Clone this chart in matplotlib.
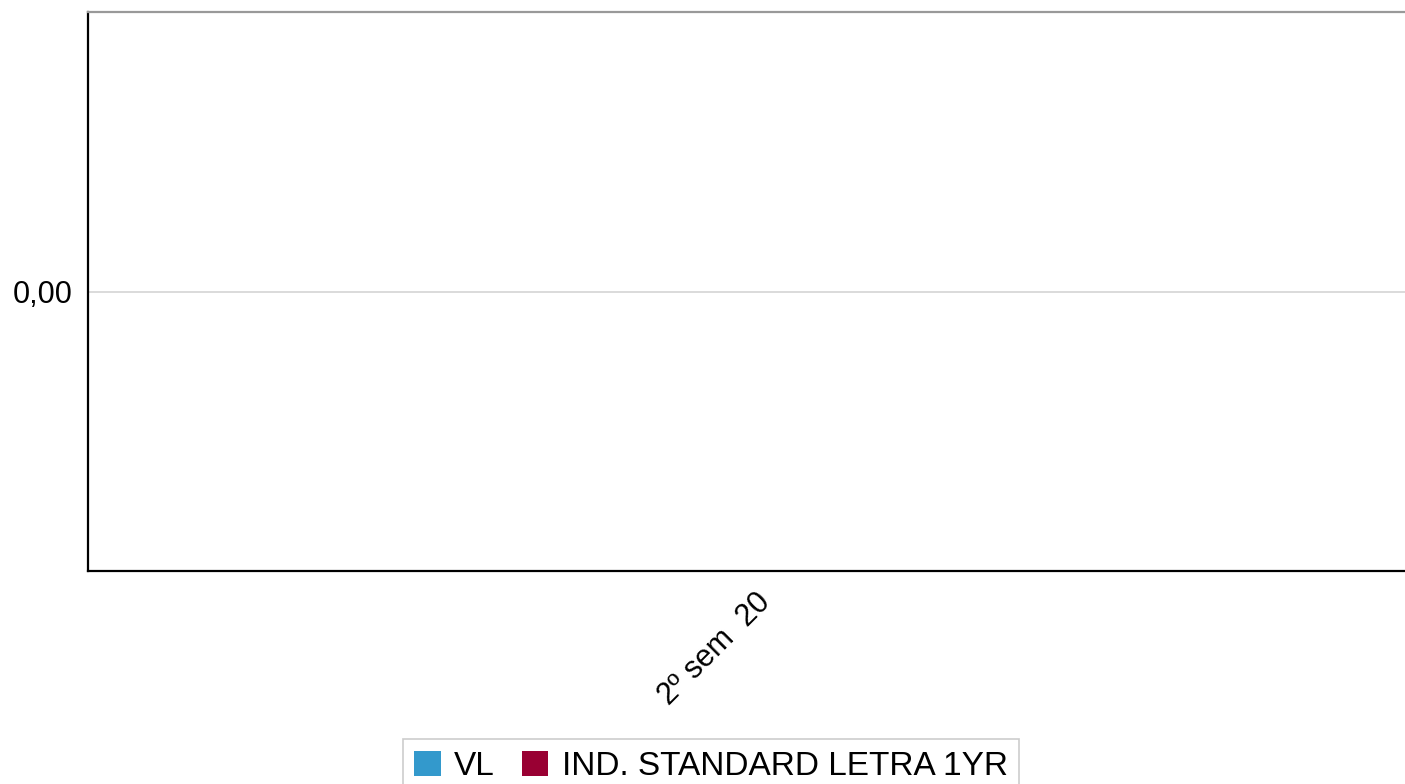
import matplotlib.pyplot as plt
import numpy as np
from matplotlib.patches import Patch

plt.rcParams["font.family"] = ["Liberation Sans", "DejaVu Sans"]

# data
categories = ["2º sem  20"]
vl = [0.0]
ind_std = [0.0]
series_names = ["VL", "IND. STANDARD LETRA 1YR"]
colors = ["#3399CC", "#990033"]

fig = plt.figure(figsize=(14.05, 7.84), dpi=100)
# axes extends past the right border (chart is cropped)
ax = fig.add_axes([88 / 1405, 1 - 571 / 784, (1422 - 88) / 1405, (571 - 12) / 784])

x = np.arange(len(categories))
w = 0.35
ax.bar(x - w / 2, vl, w, color=colors[0])
ax.bar(x + w / 2, ind_std, w, color=colors[1])

ax.set_xlim(-0.5, 0.5)
ax.set_ylim(-1, 1)
ax.set_yticks([0])
ax.set_yticklabels(["0,00"], fontsize=22, va="center_baseline")
ax.set_xticks(x)
ax.set_xticklabels(categories, rotation=45, ha="right", rotation_mode="anchor", fontsize=22)
ax.tick_params(axis="both", length=0)
ax.tick_params(axis="y", pad=11)
ax.tick_params(axis="x", pad=12)
ax.yaxis.grid(True, color="#d4d4d4", lw=1.2)
ax.set_axisbelow(True)

ax.spines["top"].set_color("#999999")
ax.spines["top"].set_linewidth(1.6)
ax.spines["left"].set_color("black")
ax.spines["left"].set_linewidth(1.6)
ax.spines["bottom"].set_color("black")
ax.spines["bottom"].set_linewidth(1.6)
ax.spines["right"].set_visible(False)

handles = [Patch(facecolor=c, edgecolor="none") for c in colors]
leg = fig.legend(handles, series_names, loc="upper center", bbox_to_anchor=(711 / 1405, 1 - 739 / 784),
                 ncol=2, fontsize=24, frameon=True, fancybox=False, handlelength=0.8,
                 handleheight=0.8, handletextpad=0.4, columnspacing=0.8, borderpad=0.35,
                 borderaxespad=0)
leg.get_frame().set_edgecolor("#c0c0c0")
leg.get_frame().set_linewidth(1.2)

fig.savefig("out.png", dpi=100)
